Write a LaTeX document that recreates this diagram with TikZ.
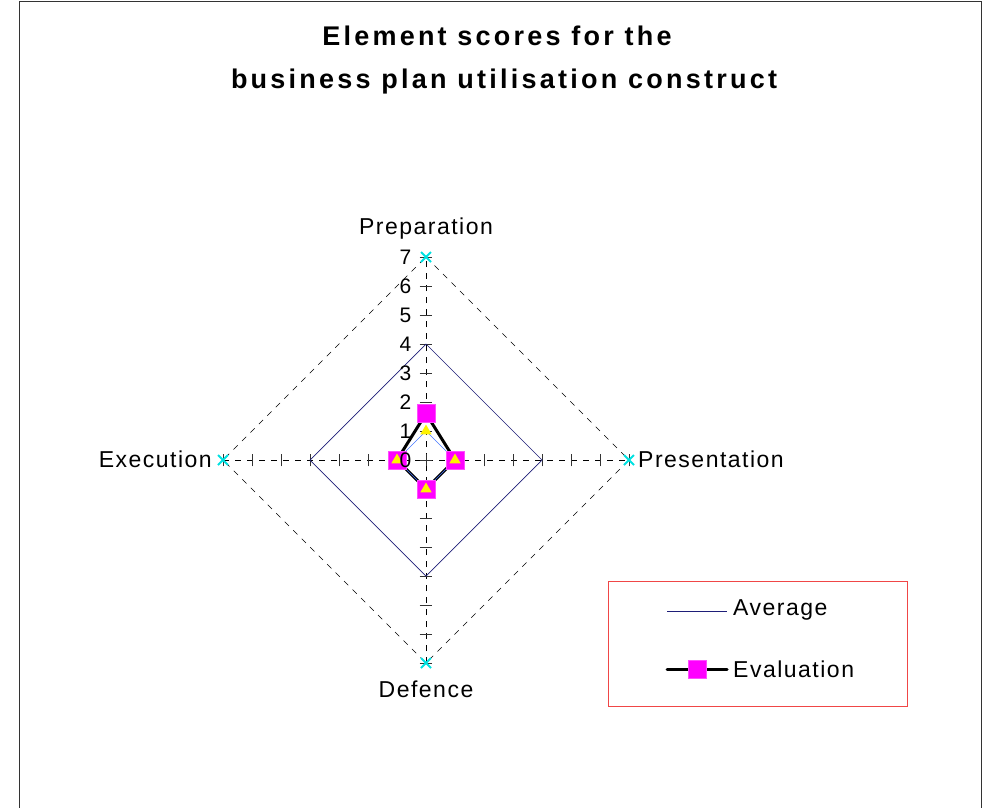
\documentclass[tikz,border=0pt]{standalone}
\usepackage{fontspec}
\setmainfont[LetterSpace=6.5]{Liberation Sans}
\newfontfamily\titlefont[LetterSpace=12]{Liberation Sans}
\usetikzlibrary{shapes.geometric,calc}

\definecolor{avgblue}{RGB}{30,30,120}
\definecolor{evalpink}{RGB}{255,0,255}
\definecolor{lowblue}{RGB}{70,120,255}
\definecolor{starcyan}{RGB}{0,225,225}
\definecolor{legendred}{RGB}{240,70,70}

\tikzset{
  axisline/.style={black, thin, dash pattern=on 6pt off 6pt},
  tickmark/.style={black!80, thin},
  evalmark/.style={rectangle, fill=evalpink, draw=evalpink!70, minimum size=18pt, inner sep=0pt},
  lowmark/.style={regular polygon, regular polygon sides=3, fill=yellow, inner sep=0pt, minimum size=13pt},
  catlabel/.style={font=\fontsize{23}{27}\selectfont, inner sep=0pt},
  numlabel/.style={font=\fontsize{21}{25}\selectfont, anchor=east, inner sep=0pt},
  titletext/.style={font=\titlefont\fontsize{27}{32}\selectfont\bfseries, anchor=base, inner sep=0pt}
}

\begin{document}
\begin{tikzpicture}[x=1pt, y=-1pt]
\useasboundingbox (0,0) rectangle (982,807);

% Frame
\draw[black!80] (19,810) -- (19,1) -- (981,1) -- (981,810);

% Title
\node[titletext] (title1) at (497,45) {Element scores for the};
\node[titletext] (title2) at (504,88) {business plan utilisation construct};

% Radar chart, one unit = 29px
\begin{scope}[shift={(426,460)}, x=29pt, y=29pt]
  \coordinate (ctr) at (0,0);
  \coordinate (prep) at (0,7);
  \coordinate (pres) at (7,0);
  \coordinate (def) at (0,-7);
  \coordinate (exe) at (-7,0);

  % Axes
  \draw[axisline] (exe) -- (pres);
  \draw[axisline] (def) -- (prep);
  \foreach \k in {0,...,7} {
    \draw[tickmark] (-0.22,\k) -- (0.22,\k);
    \draw[tickmark] (-0.22,-\k) -- (0.22,-\k);
    \draw[tickmark] (\k,-0.22) -- (\k,0.22);
    \draw[tickmark] (-\k,-0.22) -- (-\k,0.22);
  }

  % Outer series (7)
  \draw[black, thin, dash pattern=on 6pt off 6pt] (prep) -- (pres) -- (def) -- (exe) -- cycle;
  \foreach \p in {prep,pres,def,exe}
    \draw[starcyan, line width=2pt] ($(\p)+(-5pt,-5pt)$) -- ($(\p)+(5pt,5pt)$)
      ($(\p)+(-5pt,5pt)$) -- ($(\p)+(5pt,-5pt)$);

  % Average (4)
  \draw[avgblue, line width=0.7pt] (0,4) -- (4,0) -- (0,-4) -- (-4,0) -- cycle;

  % Evaluation
  \coordinate (ev1) at (0,1.6);
  \coordinate (ev2) at (1,0);
  \coordinate (ev3) at (0,-1);
  \coordinate (ev4) at (-1,0);
  \draw[black, line width=3pt, line join=round] (ev1) -- (ev2) -- (ev3) -- (ev4) -- cycle;
  \draw[lowblue, thin] (0,1) -- (1,0) -- (0,-1) -- (-1,0) -- cycle;
  \foreach \p in {ev1,ev2,ev3,ev4}
    \node[evalmark] at (\p) {};
  \foreach \p/\q in {0/1,1/0,0/-1,-1/0}
    \node[lowmark] at (\p,\q) {};

  % Scale numbers
  \foreach \k in {0,...,7}
    \node[numlabel] (num\k) at (-0.5,\k) {\k};
\end{scope}

% Category labels
\node[catlabel, anchor=base] (lprep) at ([yshift=23pt]prep) {Preparation};
\node[catlabel, anchor=base west] (lpres) at ([xshift=9pt, yshift=-7pt]pres) {Presentation};
\node[catlabel, anchor=base] (ldef) at ([yshift=-34pt]def) {Defence};
\node[catlabel, anchor=base east] (lexe) at ([xshift=-11pt, yshift=-7pt]exe) {Execution};

% Legend
\draw[legendred] (608,581) rectangle (907,706);
\coordinate (avgA) at (667,611);
\coordinate (avgB) at (727,611);
\coordinate (evA) at (667,669);
\coordinate (evB) at (727,669);
\draw[avgblue, line width=0.7pt] (avgA) -- (avgB);
\draw[black, line width=3pt, line cap=round] (evA) -- (evB);
\node[evalmark] (evkey) at ($(evA)!0.5!(evB)$) {};
\node[catlabel, anchor=base west] (lavg) at (733,615) {Average};
\node[catlabel, anchor=base west] (leval) at (733,677) {Evaluation};

\end{tikzpicture}
\end{document}
